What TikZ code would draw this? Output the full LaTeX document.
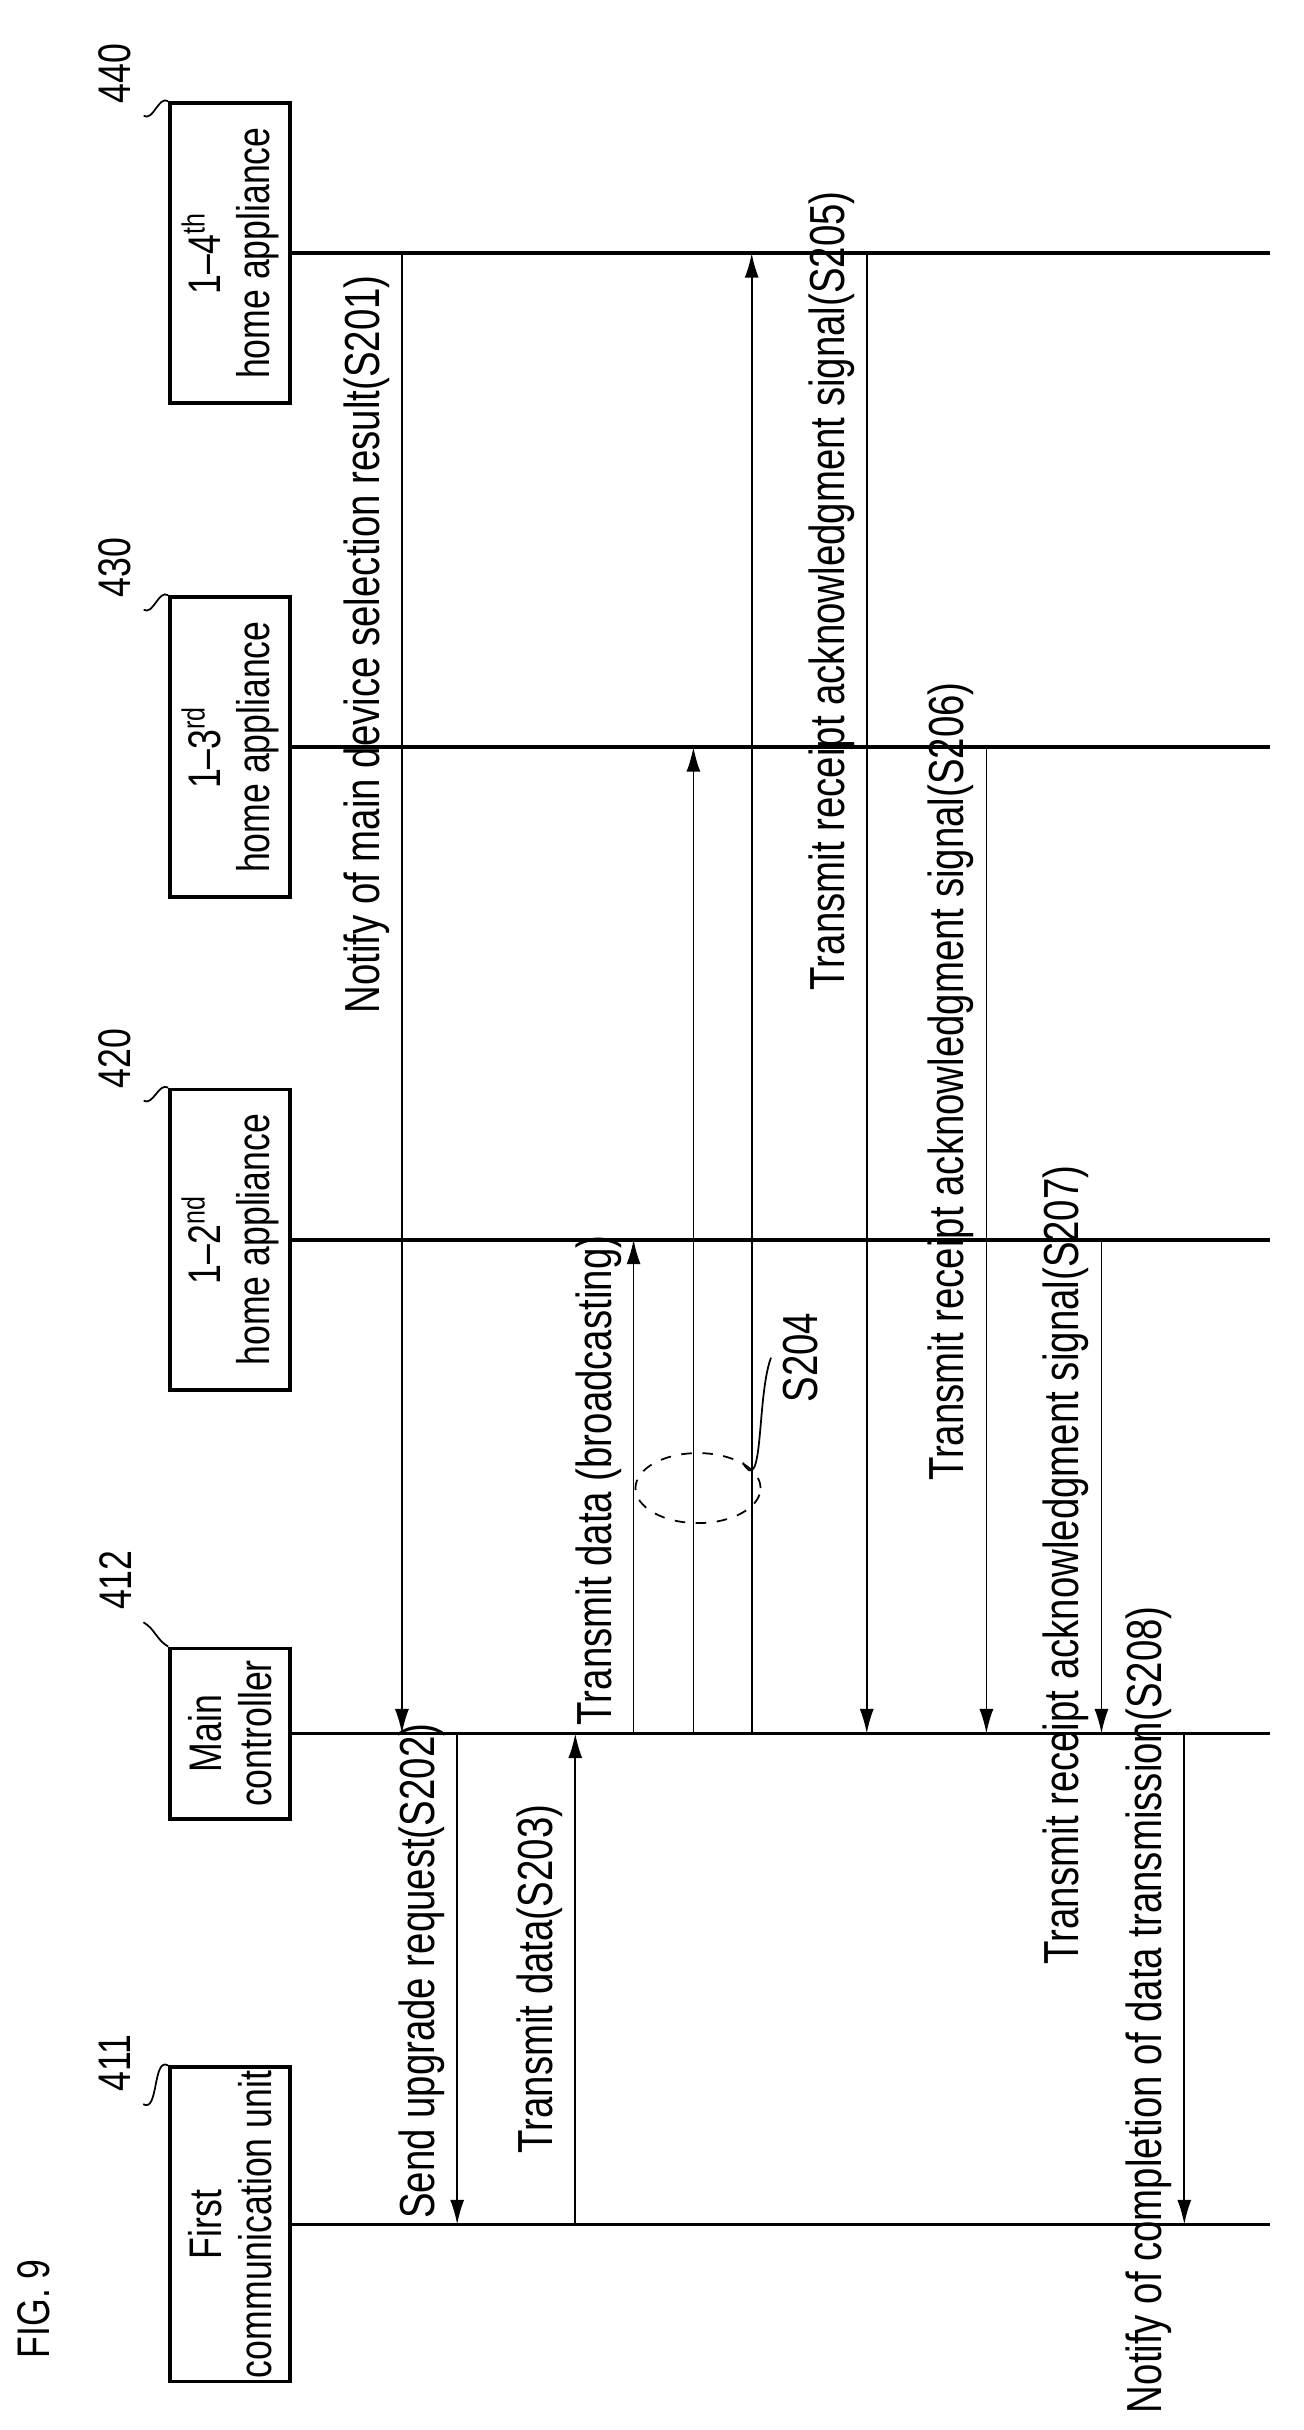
\documentclass[tikz,border=0pt]{standalone}
\usepackage{fontspec}
\setmainfont[FakeStretch=0.78]{Liberation Sans}
\usetikzlibrary{arrows.meta,shapes.geometric}
\begin{document}
\begin{tikzpicture}[x=0.01534cm,y=-0.01534cm,
 life/.style={line width=1.1pt},
 msg/.style={line width=0.5pt,-{Latex[length=7pt,width=4pt]}},
 box/.style={draw,line width=1.1pt,rotate=90,minimum height=1.2cm,align=center,font=\fontsize{13}{14}\selectfont,inner sep=1pt},
 lab/.style={rotate=90,anchor=south,font=\fontsize{14}{15}\selectfont,inner sep=2pt},
 num/.style={rotate=90,font=\fontsize{13}{14}\selectfont}]
\useasboundingbox (0,0) rectangle (850,1584);
\node[num] (fig) at (22,1505) {FIG. 9};
% boxes
\node[box,minimum width=2.8cm] (b1) at (150,1450) {First\\communication unit};
\node[box,minimum width=1.7cm] (b2) at (150,1130) {Main\\controller};
\node[box,minimum width=3.0cm] (b3) at (150,808) {1--2\textsuperscript{nd}\\home appliance};
\node[box,minimum width=3.0cm] (b4) at (150,487) {1--3\textsuperscript{rd}\\home appliance};
\node[box,minimum width=3.0cm] (b5) at (150,165) {1--4\textsuperscript{th}\\home appliance};
% lifeline ends
\foreach \n/\y in {1/1450,2/1130,3/808,4/487,5/165}{
 \coordinate (e\n) at (828,\y);
 \draw[life] (b\n.south) -- (e\n);}
% ref numbers
\node[num] (n411) at (75,1345) {411};
\node[num] (n412) at (75,1030) {412};
\node[num] (n420) at (75,690) {420};
\node[num] (n430) at (75,370) {430};
\node[num] (n440) at (75,48) {440};
\foreach \n/\b in {n411/b1,n412/b2,n420/b3,n430/b4,n440/b5}
 \draw[line width=0.5pt] (\n.south west) to[out=-30,in=150] (\b.north east);
% points on lifelines
\foreach \x in {262,298,375,413,452,490,565,643,718,772}{
 \foreach \n/\y in {1/1450,2/1130,3/808,4/487,5/165}{
  \coordinate (p\x-\n) at (\x,\y);}}
\draw[msg] (p262-5) -- (p262-2);
\node[lab] (l201) at (259,420) {Notify of main device selection result(S201)};
\draw[msg] (p298-2) -- (p298-1);
\node[lab] (l202) at (295,1285) {Send upgrade request(S202)};
\draw[msg] (p375-1) -- (p375-2);
\node[lab] (l203) at (372,1290) {Transmit data(S203)};
\draw[msg] (p413-2) -- (p413-3);
\draw[msg] (p452-2) -- (p452-4);
\draw[msg] (p490-2) -- (p490-5);
\node[lab] (l204) at (410,965) {Transmit data (broadcasting)};
\node[draw,dashed,ellipse,line width=0.5pt,minimum width=1.25cm,minimum height=0.7cm,inner sep=0pt] (ell) at (455,970) {};
\node[num,font=\fontsize{14}{15}\selectfont] (s204) at (522,885) {S204};
\draw[line width=0.5pt] (ell.north east) to[out=-60,in=-110] (s204.north);
\draw[msg] (p565-5) -- (p565-2);
\node[lab] (l205) at (562,385) {Transmit receipt acknowledgment signal(S205)};
\draw[msg] (p643-4) -- (p643-2);
\node[lab] (l206) at (640,705) {Transmit receipt acknowledgment signal(S206)};
\draw[msg] (p718-3) -- (p718-2);
\node[lab] (l207) at (715,1020) {Transmit receipt acknowledgment signal(S207)};
\draw[msg] (p772-2) -- (p772-1);
\node[lab] (l208) at (769,1310) {Notify of completion of data transmission(S208)};
\end{tikzpicture}
\end{document}
